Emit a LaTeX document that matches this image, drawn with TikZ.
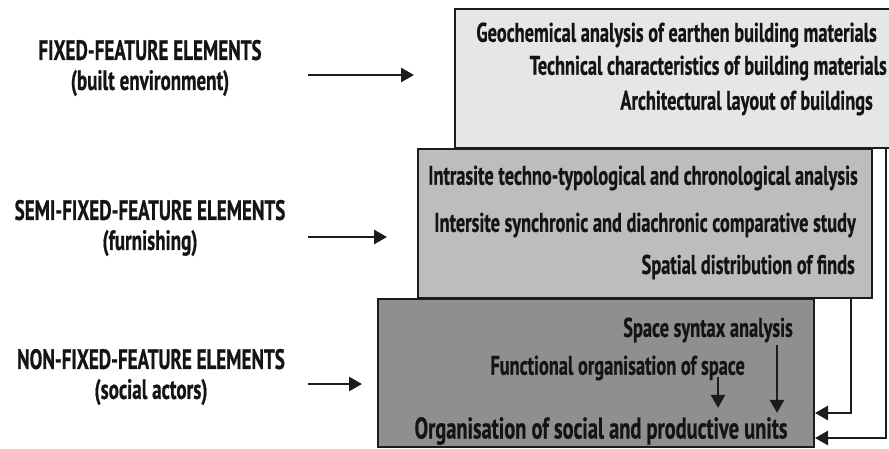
\documentclass[tikz,border=0pt]{standalone}
\usepackage{fontspec}
\setmainfont{PT Sans}[FakeStretch=0.68,BoldFeatures={FakeBold=0.6}]
\usetikzlibrary{arrows.meta,calc}
\definecolor{layerborder}{HTML}{1C1C1C}
\definecolor{layertext}{HTML}{141414}
\definecolor{fixedfill}{HTML}{E6E6E6}
\definecolor{semifill}{HTML}{BDBDBD}
\definecolor{socialfill}{HTML}{8F8F8F}
\tikzset{
  layer box/.style={
    rectangle, draw=layerborder, line width=2pt,
    anchor=north west, inner sep=0pt
  },
  layer item/.style={
    text=layertext, inner sep=0pt,
    font=\fontsize{27}{30}\selectfont\bfseries
  },
  layer title/.style={
    layer item, align=center,
    font=\fontsize{28}{30}\selectfont\bfseries
  },
  layer line/.style={
    draw=layerborder, line width=2.6pt, line join=miter
  },
  layer arrow/.style={
    layer line, -{Triangle[length=13pt,width=14pt]}
  }
}
\begin{document}
\begin{tikzpicture}[x=1pt,y=-1pt]
  \useasboundingbox (0,0) rectangle (889,448);

  % The three nested layers, from the built environment down to the actors.
  \node[layer box,fill=fixedfill,minimum width=460pt,minimum height=139pt] (fixedbox) at (454,8) {};
  \node[layer box,fill=semifill,minimum width=454pt,minimum height=149pt] (semibox) at (417,148) {};
  \node[layer box,fill=socialfill,minimum width=436pt,minimum height=148pt] (socialbox) at (377,298) {};

  \node[layer item,anchor=east] (geochem) at (877,35) {Geochemical analysis of earthen building materials};
  \node[layer item,anchor=east] (technical) at (887,68) {Technical characteristics of building materials};
  \node[layer item,anchor=east] (layout) at (873,103) {Architectural layout of buildings};

  \node[layer item,anchor=east] (intrasite) at (858,178) {Intrasite techno-typological and chronological analysis};
  \node[layer item,anchor=east] (intersite) at (856,225) {Intersite synchronic and diachronic comparative study};
  \node[layer item,anchor=east] (finds) at (855,267) {Spatial distribution of finds};

  \node[layer item,anchor=east] (spacesyntax) at (793,330) {Space syntax analysis};
  \node[layer item,anchor=east] (functional) at (745,368) {Functional organisation of space};
  \node[layer item,font=\fontsize{30}{32}\selectfont\bfseries] (socialunits) at (601,431) {Organisation of social and productive units};

  % Left-hand titles of each layer.
  \node[layer title] (fixedlabel) at (150,68) {FIXED-FEATURE ELEMENTS\\(built environment)};
  \node[layer title] (semilabel) at (150,228) {SEMI-FIXED-FEATURE ELEMENTS\\(furnishing)};
  \node[layer title] (sociallabel) at (151,377) {NON-FIXED-FEATURE ELEMENTS\\(social actors)};

  \coordinate (fixedtip) at (414,75);
  \coordinate (semitip) at (387,237);
  \coordinate (socialtip) at (362,384);
  \draw[layer arrow] (fixedtip -| 308,0) -- (fixedtip);
  \draw[layer arrow] (semitip -| 308,0) -- (semitip);
  \draw[layer arrow] (socialtip -| 308,0) -- (socialtip);

  % Arrows inside the social layer.
  \coordinate (syntaxdrop) at (777,0);
  \coordinate (functiondrop) at (718,0);
  \draw[layer arrow,shorten <=2pt,shorten >=4pt] (spacesyntax.south -| syntaxdrop) -- (socialunits.north -| syntaxdrop);
  \draw[layer arrow,shorten <=-4pt,shorten >=9pt] (functional.south -| functiondrop) -- (socialunits.north -| functiondrop);

  % The upper layers feed back into the social units.
  \coordinate (semidrop) at (851,413);
  \coordinate (fixeddrop) at (886,438);
  \draw[layer arrow] (semibox.south -| semidrop) |- (socialbox.east |- semidrop);
  \draw[layer arrow] (fixedbox.south -| fixeddrop) |- (socialbox.east |- fixeddrop);
\end{tikzpicture}
\end{document}
